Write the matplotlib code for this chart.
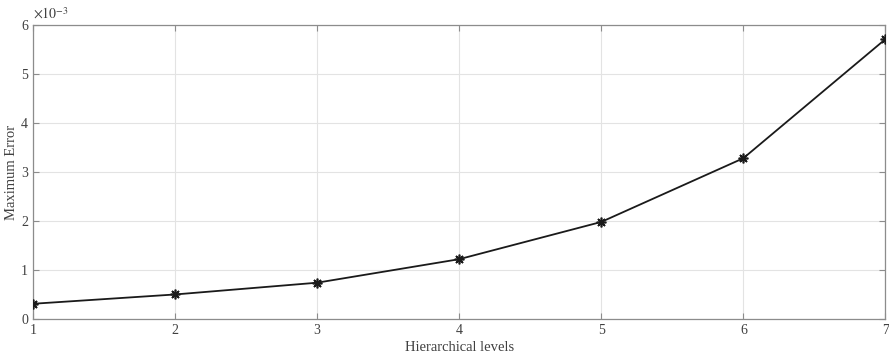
import matplotlib
matplotlib.use("Agg")
import matplotlib.pyplot as plt

plt.rcParams['font.family'] = ['Liberation Serif', 'DejaVu Serif']
plt.rcParams['mathtext.fontset'] = 'stix'

levels = [1, 2, 3, 4, 5, 6, 7]
max_err = [0.31, 0.50, 0.74, 1.22, 1.98, 3.28, 5.71]  # x 1e-3

fig = plt.figure(figsize=(8.89, 3.56), dpi=100)
ax = fig.add_axes([0.037, 0.104, 0.959, 0.826])

# asterisk marker: 8 arms
ax.plot(levels, max_err, color='#1a1a1a', linewidth=1.3, marker=(8, 2, 0),
        markersize=7, markeredgewidth=1.2, zorder=3)

ax.set_xlim(1, 7)
ax.set_ylim(0, 6)
ax.set_xticks(levels)
ax.set_yticks(range(0, 7))
ax.grid(True, color='#e3e3e3', linewidth=0.8)
ax.set_axisbelow(True)
for s in ax.spines.values():
    s.set_color('#8c8c8c')
    s.set_linewidth(0.9)
ax.tick_params(direction='in', length=4, colors='#8c8c8c', labelcolor='#404040',
               labelsize=10, top=True, right=True)
ax.set_xlabel('Hierarchical levels', fontsize=10.5, color='#404040', labelpad=3)
ax.set_ylabel('Maximum Error', fontsize=10.5, color='#404040', labelpad=2)
ax.text(0.0, 1.01, r'$\times 10^{-3}$', transform=ax.transAxes, fontsize=10,
        color='#404040', ha='left', va='bottom')

fig.savefig('out.png', dpi=100)
